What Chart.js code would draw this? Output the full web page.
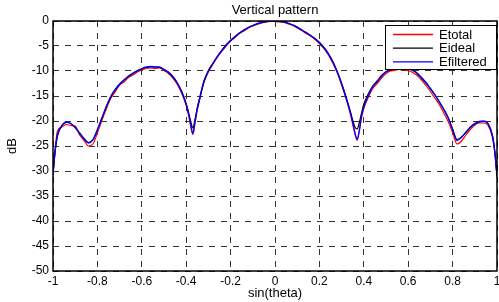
<!DOCTYPE html>
<html>
<head>
<meta charset="utf-8">
<script src="https://cdn.jsdelivr.net/npm/chart.js@4/dist/chart.umd.min.js"></script>
<style>
  body { margin: 0; background: #fff; }
  #wrap { width: 499px; height: 302px; position: relative; }
</style>
</head>
<body>
<div id="wrap"><canvas id="chart"></canvas></div>
<script>
// sin(theta) sample points
const sinTheta = [
  -1, -0.99, -0.98, -0.96, -0.94, -0.92, -0.90, -0.88, -0.86, -0.84,
  -0.82, -0.80, -0.78, -0.76, -0.74, -0.72, -0.70, -0.68, -0.66, -0.64,
  -0.62, -0.60, -0.58, -0.56, -0.54, -0.52, -0.50, -0.48, -0.46, -0.44,
  -0.42, -0.40, -0.39, -0.38, -0.37, -0.36, -0.35, -0.34, -0.32, -0.30,
  -0.28, -0.26, -0.24, -0.22, -0.20, -0.18, -0.16, -0.14, -0.12, -0.10,
  -0.08, -0.06, -0.04, -0.02, 0, 0.02, 0.04, 0.06, 0.08, 0.10,
  0.12, 0.14, 0.16, 0.18, 0.20, 0.22, 0.24, 0.26, 0.28, 0.30,
  0.32, 0.34, 0.35, 0.36, 0.37, 0.38, 0.39, 0.40, 0.42, 0.44,
  0.46, 0.48, 0.50, 0.52, 0.54, 0.56, 0.58, 0.60, 0.62, 0.64,
  0.66, 0.68, 0.70, 0.72, 0.74, 0.76, 0.78, 0.80, 0.82, 0.84,
  0.86, 0.88, 0.90, 0.92, 0.94, 0.96, 0.98, 0.99, 1
];

const eTotal = [
  -30.6, -25.5, -22.0, -21.2, -20.7, -20.9, -21.0, -22.8, -23.9, -25.0,
  -24.6, -22.4, -19.9, -17.6, -15.5, -14.2, -12.8, -12.2, -11.3, -10.8,
  -10.2, -9.8, -9.5, -9.4, -9.5, -9.4, -9.9, -10.5, -11.4, -12.7,
  -14.5, -16.9, -18.7, -21.0, -22.7, -20.4, -17.8, -15.9, -12.3, -10.2,
  -8.7, -7.3, -6.1, -5.0, -4.0, -3.3, -2.5, -2.0, -1.4, -1.0,
  -0.7, -0.4, -0.2, -0.1, -0.1, -0.2, -0.3, -0.6, -0.9, -1.4,
  -1.9, -2.5, -3.0, -3.7, -4.5, -5.5, -6.8, -8.4, -10.3, -12.8,
  -15.5, -18.7, -20.6, -22.6, -23.9, -22.0, -19.3, -17.5, -15.3, -13.5,
  -12.5, -11.4, -10.5, -10.0, -9.9, -9.7, -9.8, -9.9, -10.3, -10.9,
  -11.8, -12.9, -14.1, -15.4, -16.7, -18.4, -20.1, -22.3, -24.6, -24.0,
  -22.8, -21.7, -20.8, -20.4, -20.4, -20.9, -23.4, -26.3, -30.8
];

const eIdeal = [
  -30.5, -26.0, -23.0, -21.0, -20.3, -20.5, -21.3, -22.4, -23.5, -24.3,
  -23.7, -21.8, -19.5, -17.2, -15.2, -13.8, -12.7, -11.8, -11.1, -10.5,
  -10.0, -9.6, -9.3, -9.2, -9.2, -9.3, -9.7, -10.3, -11.2, -12.4,
  -14.2, -16.6, -18.2, -20.0, -21.4, -19.6, -17.4, -15.6, -12.1, -10.0,
  -8.5, -7.1, -5.9, -4.8, -3.9, -3.1, -2.4, -1.8, -1.3, -0.9,
  -0.55, -0.3, -0.12, -0.03, 0, -0.05, -0.2, -0.45, -0.8, -1.2,
  -1.8, -2.3, -2.9, -3.5, -4.3, -5.3, -6.5, -8.1, -10.1, -12.5,
  -15.2, -18.2, -19.8, -21.2, -21.6, -20.3, -18.4, -16.6, -14.6, -13.0,
  -12.0, -10.9, -10.2, -9.8, -9.6, -9.5, -9.5, -9.6, -9.9, -10.5,
  -11.4, -12.4, -13.6, -14.8, -16.2, -17.7, -19.4, -21.6, -23.7, -23.2,
  -22.3, -21.3, -20.6, -20.2, -20.1, -20.6, -23.0, -26.0, -31.0
];

const eFiltered = [
  -30.8, -25.8, -22.8, -20.9, -20.2, -20.5, -21.3, -22.5, -23.6, -24.4,
  -23.8, -21.7, -19.4, -17.1, -15.1, -13.7, -12.6, -11.8, -11.0, -10.4,
  -9.9, -9.5, -9.2, -9.1, -9.2, -9.2, -9.7, -10.2, -11.1, -12.4,
  -14.1, -16.6, -18.4, -20.6, -22.5, -20.0, -17.5, -15.5, -12.0, -9.9,
  -8.5, -7.1, -5.9, -4.8, -3.9, -3.1, -2.4, -1.8, -1.3, -0.9,
  -0.5, -0.3, -0.1, 0, 0, -0.05, -0.2, -0.45, -0.8, -1.2,
  -1.8, -2.3, -2.9, -3.5, -4.3, -5.3, -6.5, -8.1, -10.1, -12.5,
  -15.3, -18.4, -20.3, -22.3, -23.6, -21.8, -18.9, -17.2, -15.0, -13.2,
  -12.2, -11.0, -10.1, -9.7, -9.5, -9.4, -9.4, -9.5, -9.8, -10.4,
  -11.3, -12.3, -13.5, -14.7, -16.1, -17.6, -19.3, -21.7, -23.9, -23.3,
  -22.2, -21.2, -20.5, -20.1, -20.0, -20.5, -23.0, -26.2, -31.2
];

const xTicks = [-1, -0.8, -0.6, -0.4, -0.2, 0, 0.2, 0.4, 0.6, 0.8, 1];
const yTicks = [-50, -45, -40, -35, -30, -25, -20, -15, -10, -5, 0];
const seriesNames = ["Etotal", "Eideal", "Efiltered"];
const seriesColors = ["#ff0000", "#000000", "#0000ff"];

const FONT = "'Liberation Sans', Arial, sans-serif";

function toPoints(ys) {
  return sinTheta.map((x, i) => ({ x: x, y: ys[i] }));
}

// titres, cadre et légende dessinés à la main (style MATLAB)
const decorPlugin = {
  id: "decor",
  afterDraw(chart) {
    const ctx = chart.ctx;
    const a = chart.chartArea;
    ctx.save();
    // cadre
    ctx.strokeStyle = "#000";
    ctx.lineWidth = 1.5;
    ctx.strokeRect(a.left, a.top, a.right - a.left, a.bottom - a.top);

    // titre
    ctx.fillStyle = "#000";
    ctx.font = "13px " + FONT;
    ctx.textAlign = "center";
    ctx.textBaseline = "middle";
    ctx.fillText("Vertical pattern", (a.left + a.right) / 2, 10);
    ctx.fillText("sin(theta)", (a.left + a.right) / 2, 293);
    ctx.save();
    ctx.translate(12, (a.top + a.bottom) / 2);
    ctx.rotate(-Math.PI / 2);
    ctx.fillText("dB", 0, 0);
    ctx.restore();

    // légende
    const lx = 385, ly = 25, lw = 112, lh = 45;
    ctx.fillStyle = "#fff";
    ctx.fillRect(lx, ly, lw, lh);
    ctx.strokeStyle = "#000";
    ctx.lineWidth = 1;
    ctx.strokeRect(lx + 0.5, ly + 0.5, lw - 1, lh - 1);
    ctx.textAlign = "left";
    ctx.font = "13px " + FONT;
    seriesNames.forEach((name, i) => {
      const y = ly + 9.5 + i * 13.7;
      ctx.strokeStyle = seriesColors[i];
      ctx.lineWidth = 1.3;
      ctx.beginPath();
      ctx.moveTo(lx + 8, y);
      ctx.lineTo(lx + 48, y);
      ctx.stroke();
      ctx.fillStyle = "#000";
      ctx.fillText(name, lx + 54, y + 0.5);
    });
    ctx.restore();
  }
};

const ctx = document.getElementById("chart").getContext("2d");
new Chart(ctx, {
  type: "line",
  data: {
    datasets: [
      { label: seriesNames[0], data: toPoints(eTotal), borderColor: seriesColors[0], borderWidth: 1.2, order: 3 },
      { label: seriesNames[1], data: toPoints(eIdeal), borderColor: seriesColors[1], borderWidth: 1.2, order: 2 },
      { label: seriesNames[2], data: toPoints(eFiltered), borderColor: seriesColors[2], borderWidth: 1.3, order: 1 }
    ]
  },
  options: {
    responsive: true,
    maintainAspectRatio: false,
    animation: false,
    layout: { padding: { top: 21, right: 2, left: 0, bottom: 0 } },
    elements: {
      point: { radius: 0 },
      line: { cubicInterpolationMode: "monotone", fill: false }
    },
    plugins: {
      legend: { display: false },
      title: { display: false },
      tooltip: { enabled: false }
    },
    scales: {
      x: {
        type: "linear",
        min: -1,
        max: 1,
        afterBuildTicks: s => { s.ticks = xTicks.map(v => ({ value: v })); },
        afterFit: s => { s.height = 31; s.paddingLeft = 0; s.paddingRight = 0; },
        ticks: {
          font: { size: 12, family: FONT },
          color: "#000",
          padding: 3,
          maxRotation: 0,
          callback: v => String(v)
        },
        grid: { color: "#333", lineWidth: 1, drawTicks: false },
        border: { display: false, dash: [6, 6] }
      },
      y: {
        min: -50,
        max: 0,
        afterBuildTicks: s => { s.ticks = yTicks.map(v => ({ value: v })); },
        afterFit: s => { s.width = 53; s.paddingTop = 0; s.paddingBottom = 0; },
        ticks: {
          font: { size: 12, family: FONT },
          color: "#000",
          padding: 4,
          callback: v => String(v)
        },
        grid: { color: "#333", lineWidth: 1, drawTicks: false },
        border: { display: false, dash: [6, 6] }
      }
    }
  },
  plugins: [decorPlugin]
});
</script>
</body>
</html>
